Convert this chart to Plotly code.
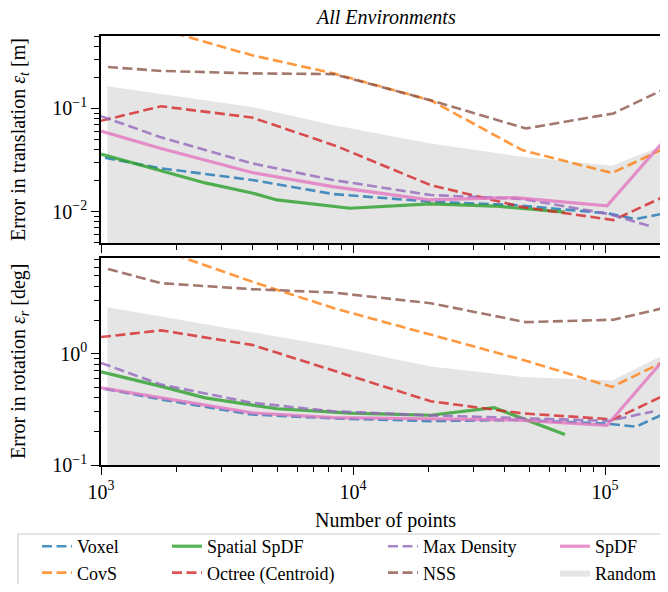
import plotly.graph_objects as go

# ---------------- data ----------------
x_voxel = [1037, 1730, 3974, 8408, 20320, 43900, 101900, 132700, 238000]
x_covs = [1730, 3974, 8408, 20320, 46900, 106700, 238000]
x_spatial = [1000, 1730, 2590, 3974, 4990, 9730, 20320, 36300, 69300]
x_octree = [1000, 1730, 3974, 8600, 20320, 46900, 108000, 238000]
x_maxd = [1000, 1730, 3974, 8300, 20320, 46900, 104000, 155000]
x_nss = [1066, 1730, 3974, 8408, 20320, 48500, 108000, 238000]
x_spdf = [1000, 1730, 3974, 8300, 20000, 43900, 101900, 238000]
x_random = [1061, 3974, 8408, 20320, 46900, 106700, 238000]

# translation error [m]
voxel_t = [0.0333, 0.0263, 0.0203, 0.0148, 0.0125, 0.0116, 0.00965, 0.00849, 0.0113]
covs_t = [0.585, 0.328, 0.218, 0.120, 0.0395, 0.0237, 0.0597]
spatial_t = [0.0361, 0.0251, 0.019, 0.0152, 0.0130, 0.0108, 0.0119, 0.01135, 0.0099]
octree_t = [0.0759, 0.105, 0.0818, 0.0432, 0.0181, 0.0111, 0.0083, 0.0203]
maxd_t = [0.0843, 0.0525, 0.0294, 0.0203, 0.0145, 0.0133, 0.0095, 0.0071]
nss_t = [0.252, 0.231, 0.219, 0.215, 0.120, 0.064, 0.0895, 0.226]
spdf_t = [0.0603, 0.041, 0.024, 0.0175, 0.0130, 0.0137, 0.0114, 0.121]
random_hi_t = [0.164, 0.1036, 0.0689, 0.0459, 0.034, 0.0279, 0.061]
random_lo_t = [0.002, 0.002, 0.002, 0.002, 0.002, 0.002, 0.002]

# rotation error [deg]
voxel_r = [0.483, 0.388, 0.284, 0.262, 0.248, 0.254, 0.235, 0.221, 0.404]
covs_r = [8.57, 4.44, 2.56, 1.48, 0.884, 0.503, 1.22]
spatial_r = [0.686, 0.509, 0.401, 0.349, 0.320, 0.293, 0.280, 0.327, 0.188]
octree_r = [1.41, 1.62, 1.20, 0.690, 0.374, 0.291, 0.257, 0.597]
maxd_r = [0.826, 0.528, 0.362, 0.304, 0.279, 0.265, 0.249, 0.303]
nss_r = [5.77, 4.30, 3.80, 3.54, 2.84, 1.92, 2.02, 3.06]
spdf_r = [0.493, 0.401, 0.294, 0.266, 0.259, 0.254, 0.227, 2.11]
random_hi_r = [2.62, 1.57, 1.16, 0.769, 0.618, 0.574, 1.41]
random_lo_r = [0.02, 0.02, 0.02, 0.02, 0.02, 0.02, 0.02]

x_tickvals = [1e3, 1e4, 1e5]
x_ticktext = ["10<sup>3</sup>", "10<sup>4</sup>", "10<sup>5</sup>"]

FONT = "Liberation Serif"
OFF = 8  # page body margin
W, H = 668 - 2 * OFF, 592 - 2 * OFF
L, T = 101 - OFF, 36 - OFF
R = 0
B = H - (465 - OFF)
PW, PH = W - L - R, H - T - B
X_MAX = 3 + PW / 252.0  # keep 252 px per decade as in the reference


def py(y):  # reference page pixel y -> paper y
    return (H - B - (y - OFF)) / PH


def px(x):
    return (x - OFF - L) / PW


series = [
    # name, x, top, bottom, color, dash, legend
    ("Voxel", x_voxel, voxel_t, voxel_r, "#1f77b4", True, "legend"),
    ("CovS", x_covs, covs_t, covs_r, "#ff7f0e", True, "legend"),
    ("Spatial SpDF", x_spatial, spatial_t, spatial_r, "#2ca02c", False, "legend2"),
    ("Octree (Centroid)", x_octree, octree_t, octree_r, "#d62728", True, "legend2"),
    ("Max Density", x_maxd, maxd_t, maxd_r, "#9467bd", True, "legend3"),
    ("NSS", x_nss, nss_t, nss_r, "#8c564b", True, "legend3"),
    ("SpDF", x_spdf, spdf_t, spdf_r, "#e377c2", False, "legend4"),
]

fig = go.Figure()

# Random band
for row, (hi, lo) in enumerate([(random_hi_t, random_lo_t), (random_hi_r, random_lo_r)]):
    fig.add_trace(go.Scatter(
        x=x_random + x_random[::-1], y=hi + lo[::-1],
        fill="toself", fillcolor="#e5e5e5", line=dict(width=0),
        mode="lines", name="Random", legend="legend4", legendrank=2,
        showlegend=(row == 0),
        xaxis="x" if row == 0 else "x2", yaxis="y" if row == 0 else "y2",
        hoverinfo="skip",
    ))

for i, (name, xs, yt, yr, color, dashed, lg) in enumerate(series):
    line = dict(color=color, width=2.6 if dashed else 3.2,
                dash="10px,4.5px" if dashed else "solid")
    fig.add_trace(go.Scatter(x=xs, y=yt, mode="lines", name=name, line=line,
                             opacity=0.8, legend=lg, legendrank=1 if i % 2 == 0 or name == "SpDF" else 2,
                             xaxis="x", yaxis="y"))
    fig.add_trace(go.Scatter(x=xs, y=yr, mode="lines", name=name, line=line,
                             opacity=0.8, showlegend=False, xaxis="x2", yaxis="y2"))

minor_x = [m * 10 ** e for e in (3, 4, 5) for m in range(2, 10)]
minor_yt = [m * 10 ** e for e in (-3, -2, -1) for m in range(2, 10)]
minor_yr = [m * 10 ** e for e in (-1, 0) for m in range(2, 10)]

axis_common = dict(
    type="log", showgrid=False, zeroline=False, showline=True, linecolor="black",
    linewidth=1.5, ticks="outside", ticklen=8, tickwidth=1.2, tickcolor="black",
    tickfont=dict(family=FONT, size=20, color="black"),
)

xcommon = dict(axis_common, range=[3, X_MAX], tickmode="array", tickvals=x_tickvals,
               ticktext=x_ticktext, mirror=True,
               minor=dict(tickmode="array", tickvals=minor_x, ticks="outside",
                          ticklen=5, tickwidth=1, tickcolor="black", showgrid=False))

fig.update_layout(
    width=W, height=H,
    margin=dict(l=L, r=R, t=T, b=B, autoexpand=False),
    paper_bgcolor="white", plot_bgcolor="white",
    font=dict(family=FONT, size=20, color="black"),
    xaxis=dict(xcommon, anchor="y", domain=[0, 1], showticklabels=False),
    xaxis2=dict(xcommon, anchor="y2", domain=[0, 1]),
    yaxis=dict(axis_common, anchor="x", domain=[py(243.3), 1], range=[-2.306, -0.298],
               tickmode="array", tickvals=[0.01, 0.1],
               ticktext=["10<sup>−2</sup>", "10<sup>−1</sup>"],
               minor=dict(tickmode="array", tickvals=minor_yt, ticks="outside",
                          ticklen=5, tickwidth=1, tickcolor="black", showgrid=False)),
    yaxis2=dict(axis_common, anchor="x2", domain=[0, py(258.3)], range=[-1, 0.857],
                tickmode="array", tickvals=[0.1, 1],
                ticktext=["10<sup>−1</sup>", "10<sup>0</sup>"],
                minor=dict(tickmode="array", tickvals=minor_yr, ticks="outside",
                           ticklen=5, tickwidth=1, tickcolor="black", showgrid=False)),
    showlegend=True,
)

leg_common = dict(xref="container", yref="container", yanchor="top", xanchor="left",
                  bgcolor="rgba(0,0,0,0)", font=dict(family=FONT, size=18, color="black"),
                  orientation="v", tracegroupgap=0, itemwidth=30)
ly = 1 - 520 / H
fig.update_layout(
    legend=dict(leg_common, x=29 / W, y=ly),
    legend2=dict(leg_common, x=159 / W, y=ly),
    legend3=dict(leg_common, x=375 / W, y=ly),
    legend4=dict(leg_common, x=547 / W, y=ly),
)

# legend frame
fig.add_shape(type="rect", xref="paper", yref="paper",
              x0=px(18), x1=px(700), y0=py(534), y1=py(610),
              line=dict(color="#cccccc", width=1.2), fillcolor="rgba(0,0,0,0)")

fig.add_annotation(text="<i>All Environments</i>", xref="paper", yref="paper",
                   x=px(385), y=py(17), xanchor="center", yanchor="middle",
                   showarrow=False, font=dict(family=FONT, size=20))
fig.add_annotation(text="Number of points", xref="paper", yref="paper",
                   x=px(385), y=py(520), xanchor="center", yanchor="middle",
                   showarrow=False, font=dict(family=FONT, size=20))
fig.add_annotation(text="Error in translation <i>ε<sub>t</sub></i> [m]", xref="paper", yref="paper",
                   x=px(19), y=py(140), xanchor="center", yanchor="middle", textangle=-90,
                   showarrow=False, font=dict(family=FONT, size=20))
fig.add_annotation(text="Error in rotation <i>ε<sub>r</sub></i> [deg]", xref="paper", yref="paper",
                   x=px(19), y=py(361), xanchor="center", yanchor="middle", textangle=-90,
                   showarrow=False, font=dict(family=FONT, size=20))

fig.write_html("out.html")
